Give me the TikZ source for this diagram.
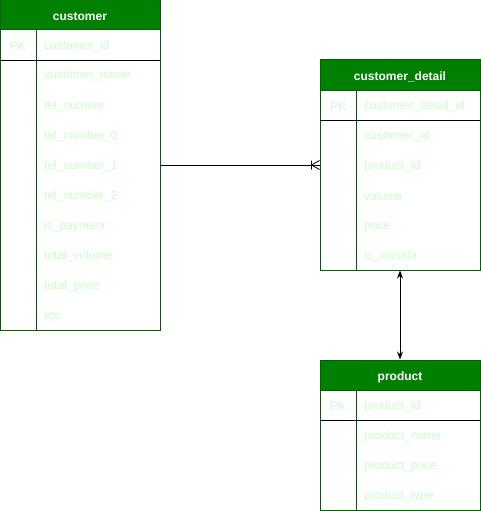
\documentclass[tikz,border=0pt]{standalone}
\usepackage{fontspec}
\setmainfont{Liberation Sans}
\usetikzlibrary{arrows.meta,positioning}
\definecolor{hdgreen}{RGB}{0,128,0}
\definecolor{edgegreen}{RGB}{0,96,0}
\definecolor{fldgreen}{RGB}{204,255,204}
\tikzset{
	tblframe/.style={draw=edgegreen,line width=1pt,inner sep=0pt,minimum width=160,fill=white},
	tblhead/.style={draw=edgegreen,line width=1pt,fill=hdgreen,inner sep=0pt,
		minimum width=160,minimum height=30,text height=11pt,text depth=0pt,
		text=white,font=\fontsize{12}{14}\selectfont\bfseries},
	pktext/.style={anchor=center,text=fldgreen,font=\fontsize{12}{14}\selectfont},
	fldtext/.style={anchor=west,inner sep=0pt,text=fldgreen,font=\fontsize{12}{14}\selectfont},
	keyline/.style={draw=black,line width=0.8pt},
	colline/.style={draw=edgegreen,line width=1pt},
	relline/.style={draw=black,line width=0.8pt}
}
\begin{document}
\begin{tikzpicture}[x=1pt,y=-1pt]
	\useasboundingbox (0,0) rectangle (481,511);
	
	% customer
	\node[tblframe,minimum height=330] (cust) at (80,165) {};
	\node[tblhead,anchor=north] (custhd) at (cust.north) {customer};
	\draw[colline] (36,30) -- (36,330);
	\draw[keyline] (0,60) -- (160,60);
	\node[pktext] (custpk) at (18,46) {PK};
	\node[fldtext] (custkey) at (44,46) {customer\_id};
	\foreach \fld [count=\i] in {customer\_name,tel\_number,tel\_number\_0,tel\_number\_1,
		tel\_number\_2,is\_payment,total\_volume,total\_price,etc}
		\node[fldtext] (custf\i) at (44,46+30*\i) {\fld};
	
	% customer_detail
	\node[tblframe,minimum height=210] (cdet) at (400,165) {};
	\node[tblhead,anchor=north] (cdethd) at (cdet.north) {customer\_detail};
	\draw[colline] (356,90) -- (356,270);
	\draw[keyline] (320,120) -- (480,120);
	\node[pktext] (cdetpk) at (338,106) {PK};
	\node[fldtext] (cdetkey) at (364,106) {customer\_detail\_id};
	\foreach \fld [count=\i] in {customer\_id,product\_id,volume,price,is\_wasabi}
		\node[fldtext] (cdetf\i) at (364,106+30*\i) {\fld};
	
	% product
	\node[tblframe,minimum height=150] (prod) at (400,435) {};
	\node[tblhead,anchor=north] (prodhd) at (prod.north) {product};
	\draw[colline] (356,390) -- (356,510);
	\draw[keyline] (320,420) -- (480,420);
	\node[pktext] (prodpk) at (338,406) {PK};
	\node[fldtext] (prodkey) at (364,406) {product\_id};
	\foreach \fld [count=\i] in {product\_name,product\_price,product\_type}
		\node[fldtext] (prodf\i) at (364,406+30*\i) {\fld};
	
	% relations
	\draw[relline] (cust.east) -- (cdet.west);
	\draw[relline] ([xshift=-8]cdet.west) -- ([yshift=-4.5]cdet.west)
		([xshift=-8]cdet.west) -- ([yshift=4.5]cdet.west)
		([xshift=-8,yshift=-4.5]cdet.west) -- ([xshift=-8,yshift=4.5]cdet.west);
	\draw[relline,{Stealth[length=8pt,width=6pt]}-{Stealth[length=8pt,width=6pt]}] (cdet.south) -- (prod.north);
	
\end{tikzpicture}
\end{document}
